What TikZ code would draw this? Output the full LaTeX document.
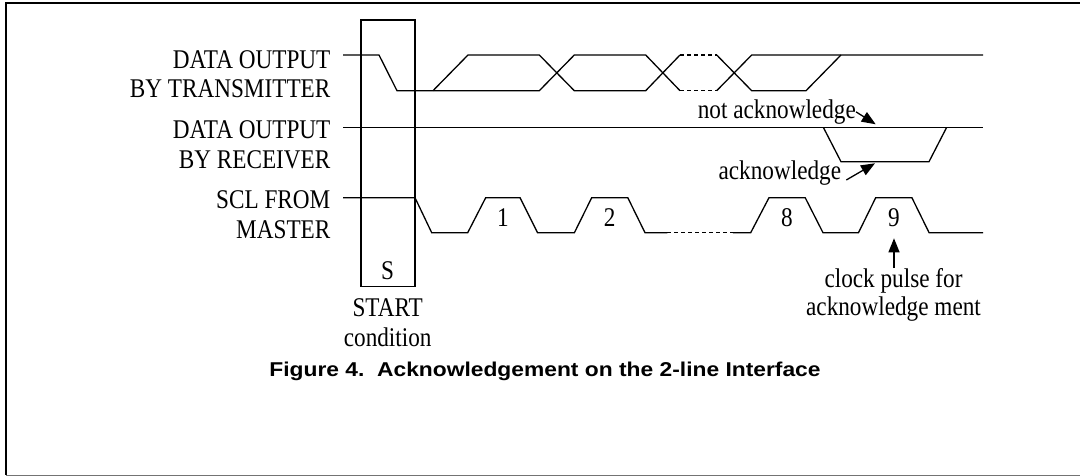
\documentclass[tikz,border=0pt]{standalone}
\usepackage{fontspec}
\usetikzlibrary{arrows.meta}
\newfontfamily\serfont[FakeStretch=0.86]{Liberation Serif}
\newfontfamily\capfont[FakeStretch=1.14]{Liberation Sans}
\begin{document}
\begin{tikzpicture}[x=1pt,y=-1pt,
  wave/.style={line width=1.3pt,line join=miter},
  dwave/.style={wave,dash pattern=on 4pt off 3pt},
  lbl/.style={inner sep=0pt,font=\serfont\fontsize{27}{30}\selectfont},
  arr/.style={line width=1.3pt,-{Triangle[length=14pt,width=11pt]}},
  frame/.style={line width=2pt}]
\useasboundingbox (0,0) rectangle (1080,476);
% frame
\draw[frame] (1080,2.7) -- (6,2.7) -- (6,475.3);
\draw[line width=1.6pt,black!55] (6,475.3) -- (1080,475.3);
% start box
\draw[wave] (361,20) rectangle (415,286.7);
% signal labels
\node[lbl,anchor=base east] (t1) at (330.6,68.3) {DATA OUTPUT};
\node[lbl,anchor=base east] (t2) at (330.6,97.3) {BY TRANSMITTER};
\node[lbl,anchor=base east] (r1) at (330.6,138.3) {DATA OUTPUT};
\node[lbl,anchor=base east] (r2) at (330.6,168.3) {BY RECEIVER};
\node[lbl,anchor=base east] (s1) at (330.6,208.3) {SCL FROM};
\node[lbl,anchor=base east] (s2) at (330.6,239) {MASTER};
% transmitter waveform
\draw[wave] (343,55) -- (379,55) -- (397,90.7) -- (539.3,90.7) -- (574.3,55) -- (645.7,55) -- (680,90.7);
\draw[wave] (433,90.7) -- (468,55) -- (539.3,55) -- (574.3,90.7) -- (645.7,90.7) -- (680,55);
\draw[dwave] (680,55) -- (716.7,55);
\draw[dwave] (680,90.7) -- (716.7,90.7);
\draw[wave] (716.7,55) -- (751.7,90.7) -- (806,90.7) -- (841,55);
\draw[wave] (716.7,90.7) -- (751.7,55) -- (983,55);
% receiver waveform
\draw[wave] (343,127.3) -- (983,127.3);
\draw[wave] (823.3,127.3) -- (841,161.7) -- (929,161.7) -- (946.7,127.3);
% SCL waveform
\draw[wave] (343,197.7) -- (415,197.7) -- (431.7,232.7) -- (467.7,232.7) -- (485.7,197.7) -- (520,197.7) -- (537.5,232.7) -- (574.4,232.7) -- (591.7,197.7) -- (627.8,197.7) -- (645,232.7) -- (667.4,232.7);
\draw[dwave] (667.4,232.7) -- (732.8,232.7);
\draw[wave] (732.8,232.7) -- (750.7,232.7) -- (769,197.7) -- (805.2,197.7) -- (823,232.7) -- (858.5,232.7) -- (875.7,197.7) -- (911.9,197.7) -- (929.1,232.7) -- (983,232.7);
% pulse numbers
\node[lbl,anchor=base] (n1) at (502.9,226) {1};
\node[lbl,anchor=base] (n2) at (609.7,226) {2};
\node[lbl,anchor=base] (n8) at (787,226) {8};
\node[lbl,anchor=base] (n9) at (893.8,226) {9};
% start condition
\node[lbl,anchor=base] (sS) at (387.7,279.3) {S};
\node[lbl,anchor=base] (st1) at (387.7,316.7) {START};
\node[lbl,anchor=base] (st2) at (387.7,346.7) {condition};
% acknowledge annotations
\node[lbl,anchor=base east] (na) at (856,118.3) {not acknowledge};
\coordinate (natip) at (875.7,124.3);
\draw[arr] (na.east) -- (natip);
\node[lbl,anchor=base east] (ak) at (841.3,180) {acknowledge};
\coordinate (aktip) at (875,163.3);
\draw[arr] ([xshift=5pt]ak.base east) -- (aktip);
% clock pulse annotation
\node[lbl,anchor=base] (cp1) at (893.5,287.3) {clock pulse for};
\node[lbl,anchor=base] (cp2) at (893.5,315) {acknowledge ment};
\coordinate (cptip) at (894,238.3);
\draw[arr] (cp1.north -| cptip) -- (cptip);
% caption
\node[inner sep=0pt,anchor=base,font=\capfont\bfseries\fontsize{20}{24}\selectfont] (cap) at (545,376.7) {Figure 4.~~Acknowledgement on the 2-line Interface};
\end{tikzpicture}
\end{document}
